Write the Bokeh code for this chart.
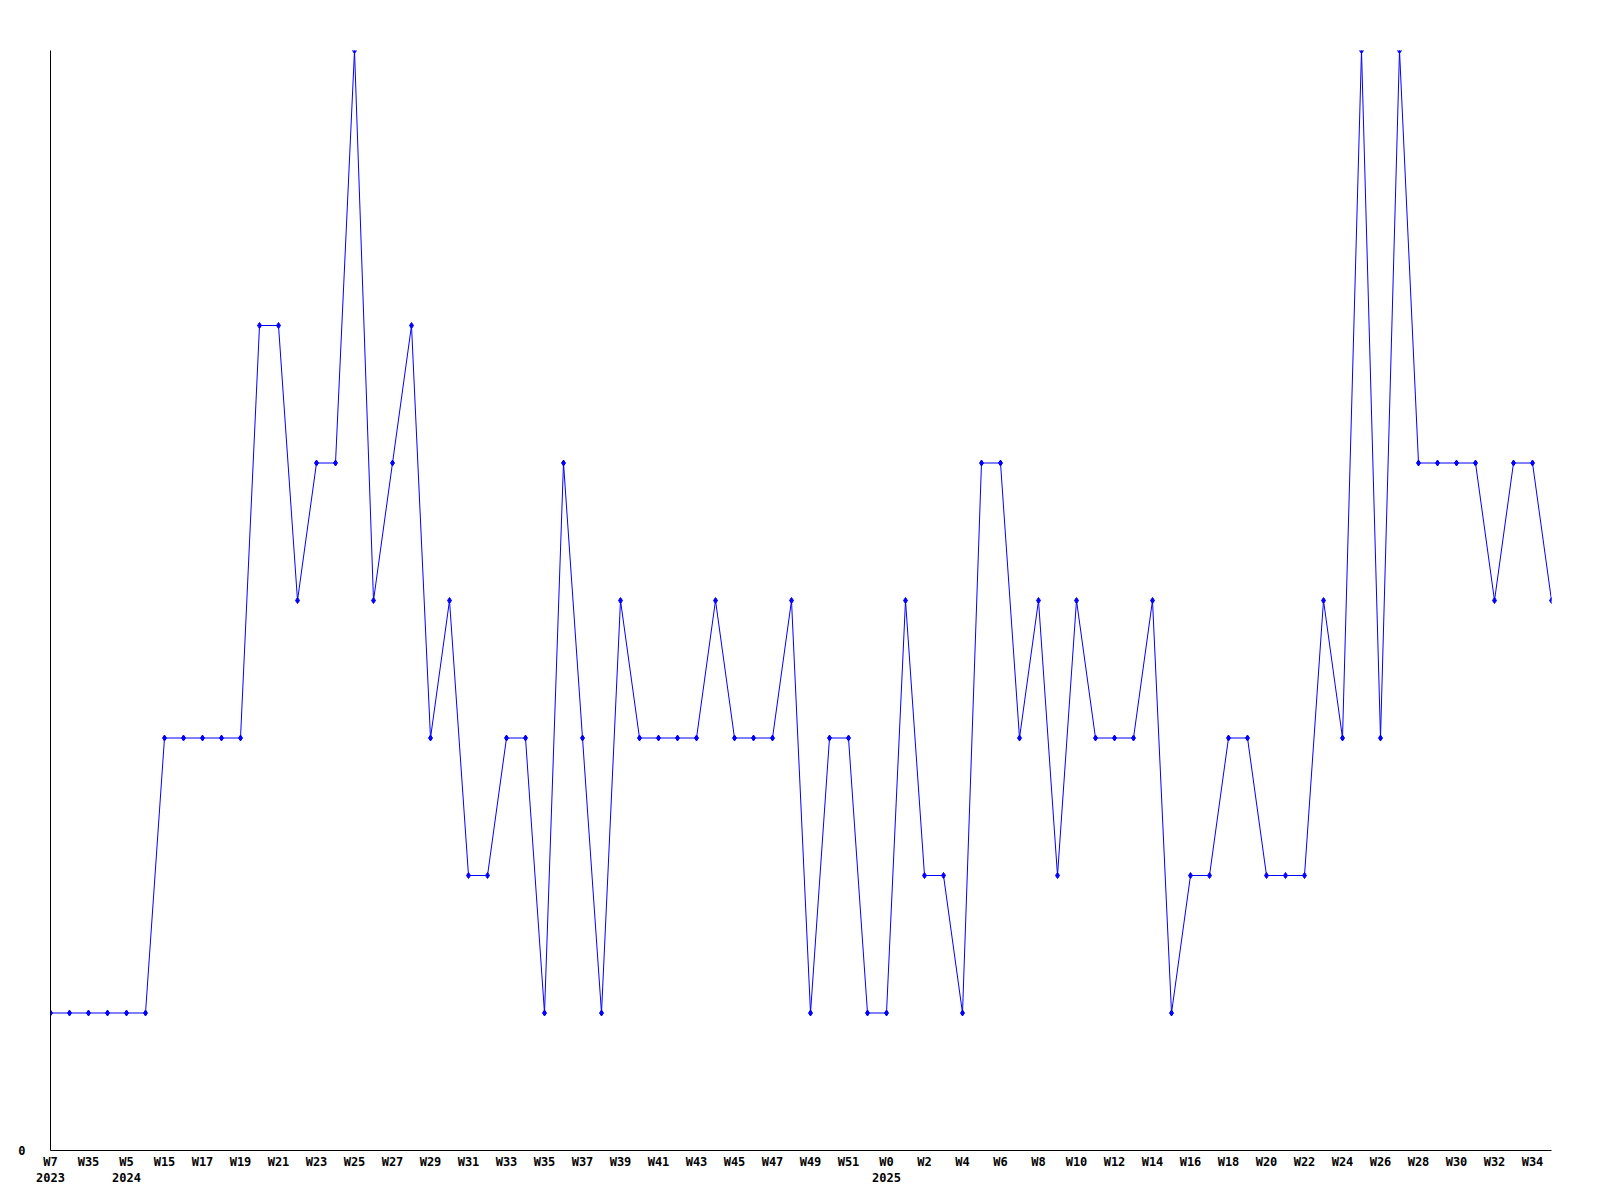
from bokeh.plotting import figure
from bokeh.models import Range1d, FixedTicker
from bokeh.embed import file_html
from bokeh.resources import INLINE

# values per observed week (80 points)
values = [1, 1, 1, 1, 1, 1, 3, 3, 3, 3,
          3, 6, 6, 4, 5, 5, 8, 4, 5, 6,
          3, 4, 2, 2, 3, 3, 1, 5, 3, 1,
          4, 3, 3, 3, 3, 4, 3, 3, 3, 4,
          1, 3, 3, 1, 1, 4, 2, 2, 1, 5,
          5, 3, 4, 2, 4, 3, 3, 3, 4, 1,
          2, 2, 3, 3, 2, 2, 2, 4, 3, 8,
          3, 8, 5, 5, 5, 5, 4, 5, 5, 4]

# labels shown on every other point
tick_labels = ["W7\n2023", "W35", "W5\n2024", "W15", "W17", "W19", "W21", "W23", "W25", "W27",
               "W29", "W31", "W33", "W35", "W37", "W39", "W41", "W43", "W45", "W47",
               "W49", "W51", "W0\n2025", "W2", "W4", "W6", "W8", "W10", "W12", "W14",
               "W16", "W18", "W20", "W22", "W24", "W26", "W28", "W30", "W32", "W34"]

xs = list(range(len(values)))
tick_pos = xs[::2]

p = figure(frame_width=1501, frame_height=1100, output_backend="svg", toolbar_location=None,
           x_range=Range1d(0, len(values) - 1), y_range=Range1d(0, 8),
           min_border_left=50, min_border_top=50, min_border_right=40, min_border_bottom=40)
p.outline_line_color = None
p.grid.visible = False
p.background_fill_color = "white"
p.border_fill_color = "white"

p.line(xs, values, line_color="#0000ff", line_width=1)
p.scatter(xs, values, marker="diamond", size=6, color="#0000ff")

for ax in (p.xaxis[0], p.yaxis[0]):
    ax.axis_line_color = "black"
    ax.axis_line_width = 1
    ax.major_tick_line_color = None
    ax.minor_tick_line_color = None
    ax.major_label_text_font = "DejaVu Sans Mono"
    ax.major_label_text_font_style = "bold"
    ax.major_label_text_font_size = "12px"
    ax.major_label_text_color = "black"

p.xaxis.ticker = FixedTicker(ticks=tick_pos)
p.xaxis.major_label_overrides = {x: lab for x, lab in zip(tick_pos, tick_labels)}
p.xaxis.major_label_standoff = -2
p.xaxis.major_label_text_line_height = 1.2

p.yaxis.ticker = FixedTicker(ticks=[0])
p.yaxis.major_label_standoff = 19

open("out.html", "w").write(file_html(p, INLINE))
